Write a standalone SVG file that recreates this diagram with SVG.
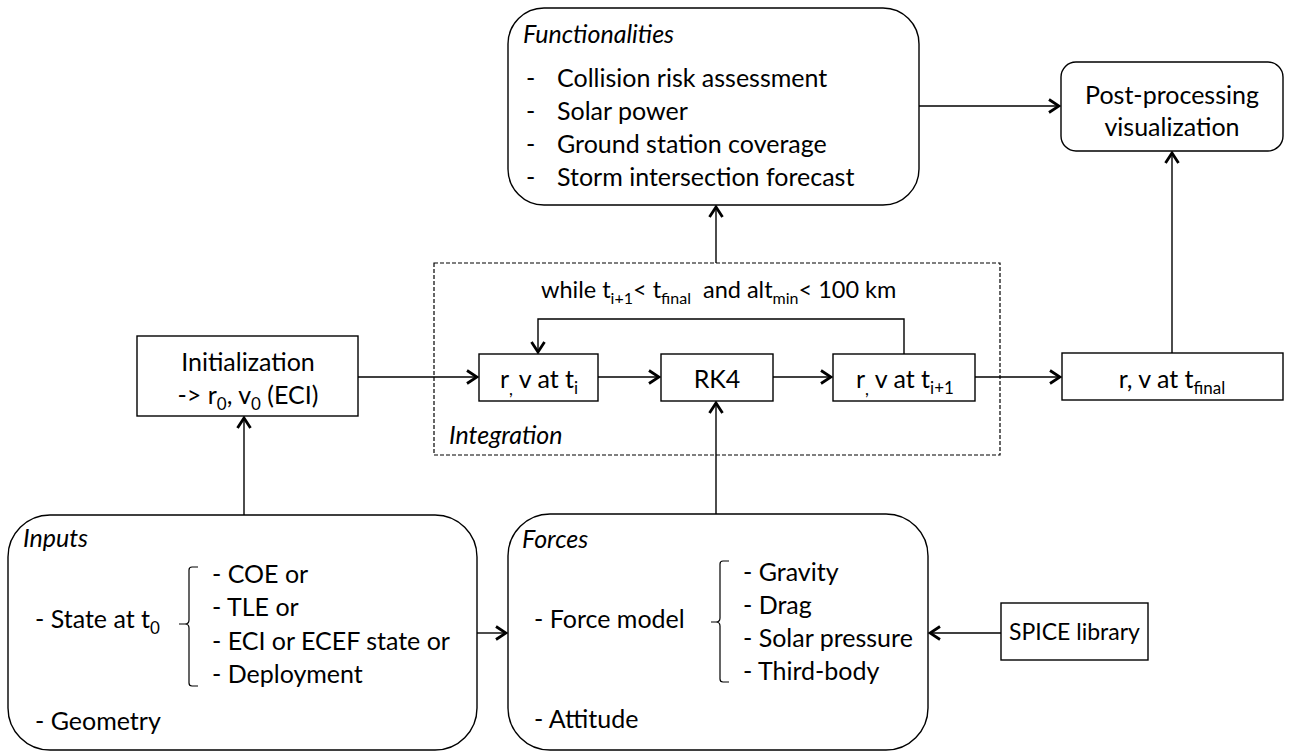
<svg xmlns="http://www.w3.org/2000/svg" width="1292" height="752" viewBox="0 0 1292 752">
<style>
text{font-family:Lato,"Liberation Sans",sans-serif;font-size:25px;fill:#000}
.it{font-style:italic}
.box{fill:#fff;stroke:#000;stroke-width:1.4}
.dash{fill:none;stroke:#000;stroke-width:1.2;stroke-dasharray:4 2}
.ln{fill:none;stroke:#000;stroke-width:1.4}
.br{fill:none;stroke:#000;stroke-width:1.2}
.sub{font-size:17px}
</style>
<defs>
<marker id="ah" viewBox="0 0 14 16" refX="12" refY="8" markerWidth="14" markerHeight="16" markerUnits="userSpaceOnUse" orient="auto">
<path d="M2,1.5 L12,8 L2,14.5" fill="none" stroke="#000" stroke-width="2.8"/>
</marker>
</defs>
<g id="integration">
<rect class="dash" x="434" y="263" width="566" height="192"/>
<text x="541" y="298" style="font-size:23.5px">while t<tspan style="font-size:16px" dy="6">i+1</tspan><tspan dy="-6">&lt; t</tspan><tspan style="font-size:16px" dy="6">final</tspan><tspan dy="-6">&#160; and alt</tspan><tspan style="font-size:16px" dy="6">min</tspan><tspan dy="-6">&lt; 100 km</tspan></text>
<text class="it" x="449" y="444">Integration</text>
</g>
<g id="connectors">
<path class="ln" d="M716,263 V207" marker-end="url(#ah)"/>
<path class="ln" d="M919,106 H1059" marker-end="url(#ah)"/>
<path class="ln" d="M1172,353 V153" marker-end="url(#ah)"/>
<path class="ln" d="M358,377 H477" marker-end="url(#ah)"/>
<path class="ln" d="M598,377 H659" marker-end="url(#ah)"/>
<path class="ln" d="M773,377 H831" marker-end="url(#ah)"/>
<path class="ln" d="M975,377 H1060" marker-end="url(#ah)"/>
<path class="ln" d="M904,354 V319 H538 V352" marker-end="url(#ah)"/>
<path class="ln" d="M244,515 V418" marker-end="url(#ah)"/>
<path class="ln" d="M716,514 V403" marker-end="url(#ah)"/>
<path class="ln" d="M477,633 H506" marker-end="url(#ah)"/>
<path class="ln" d="M1001,633 H930" marker-end="url(#ah)"/>
</g>
<g id="functionalities">
<rect class="box" x="508" y="8" width="411" height="197" rx="36"/>
<text class="it" x="523" y="43">Functionalities</text>
<text x="526" y="87">-</text><text x="557" y="87">Collision risk assessment</text>
<text x="526" y="120">-</text><text x="557" y="120">Solar power</text>
<text x="526" y="153">-</text><text x="557" y="153">Ground station coverage</text>
<text x="526" y="186">-</text><text x="557" y="186">Storm intersection forecast</text>
</g>
<g id="postprocessing">
<rect class="box" x="1061" y="62" width="222" height="89" rx="15"/>
<text x="1172" y="104" text-anchor="middle">Post-processing</text>
<text x="1172" y="136" text-anchor="middle">visualization</text>
</g>
<g id="initialization">
<rect class="box" x="137" y="336" width="221" height="80"/>
<text x="248" y="371" text-anchor="middle">Initialization</text>
<text x="248" y="404" text-anchor="middle">-&gt; r<tspan class="sub" dy="6">0</tspan><tspan dy="-6">, v</tspan><tspan class="sub" dy="6">0</tspan><tspan dy="-6"> (ECI)</tspan></text>
</g>
<g id="rv_ti">
<rect class="box" x="479" y="354" width="119" height="47"/>
<text x="500" y="388">r<tspan class="sub" dy="7">,</tspan><tspan dy="-7"> v at t</tspan><tspan class="sub" dy="6">i</tspan></text>
</g>
<g id="rk4">
<rect class="box" x="661" y="354" width="112" height="47"/>
<text x="717" y="388" text-anchor="middle">RK4</text>
</g>
<g id="rv_ti1">
<rect class="box" x="833" y="354" width="142" height="47"/>
<text x="856" y="388">r<tspan class="sub" dy="7">,</tspan><tspan dy="-7"> v at t</tspan><tspan class="sub" dy="6">i+1</tspan></text>
</g>
<g id="rv_tfinal">
<rect class="box" x="1062" y="353" width="221" height="47"/>
<text x="1172" y="388" text-anchor="middle">r, v at t<tspan class="sub" dy="6">final</tspan></text>
</g>
<g id="inputs">
<rect class="box" x="8" y="515" width="469" height="235" rx="42"/>
<text class="it" x="23" y="547">Inputs</text>
<text x="35" y="628">- State at t<tspan class="sub" dy="6">0</tspan></text>
<path class="br" d="M198,567 H192 Q189,567 189,570 V620 Q189,624 185,624 H179 M185,624 Q189,624 189,628 V683 Q189,686 192,686 H198"/>
<text x="212" y="583">- COE or</text>
<text x="212" y="616">- TLE or</text>
<text x="212" y="650">- ECI or ECEF state or</text>
<text x="212" y="683">- Deployment</text>
<text x="35" y="730">- Geometry</text>
</g>
<g id="forces">
<rect class="box" x="508" y="514" width="420" height="236" rx="42"/>
<text class="it" x="522" y="548">Forces</text>
<text x="534" y="628">- Force model</text>
<path class="br" d="M729,561 H723 Q720,561 720,564 V618 Q720,622 716,622 H711 M716,622 Q720,622 720,626 V679 Q720,682 723,682 H729"/>
<text x="743" y="581">- Gravity</text>
<text x="743" y="614">- Drag</text>
<text x="743" y="647">- Solar pressure</text>
<text x="743" y="680">- Third-body</text>
<text x="534" y="728">- Attitude</text>
</g>
<g id="spice">
<rect class="box" x="1001" y="603" width="147" height="57"/>
<text x="1074.5" y="640" text-anchor="middle" style="font-size:23px">SPICE library</text>
</g>
</svg>
